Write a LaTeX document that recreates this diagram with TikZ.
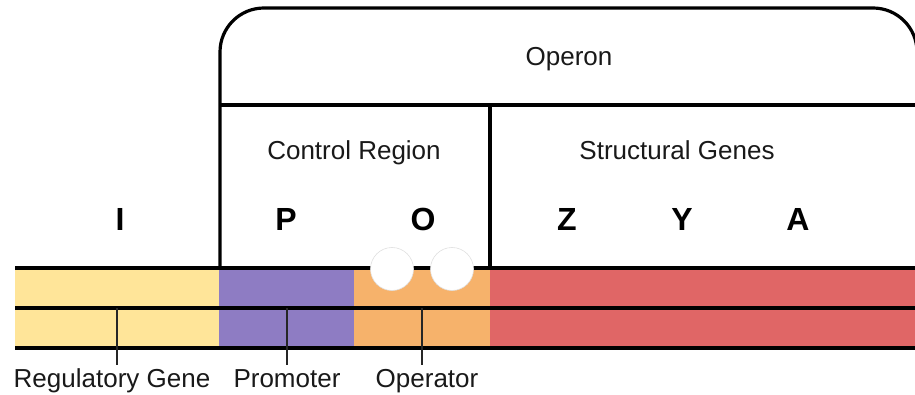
\documentclass[tikz,border=0pt]{standalone}
\usepackage{fontspec}
\setmainfont{Liberation Sans}
\usetikzlibrary{positioning}
\definecolor{genyellow}{HTML}{FFE599}
\definecolor{genpurple}{HTML}{8E7CC3}
\definecolor{genorange}{HTML}{F6B26B}
\definecolor{genred}{HTML}{E06666}
\tikzset{
    strand/.style={line width=1.8pt,draw=black},
    frame/.style={line width=1.6pt,draw=black,rounded corners=22pt},
    leader/.style={line width=0.7pt,draw=black!85},
    gene/.style={font=\fontsize{16}{18}\selectfont\bfseries,anchor=base},
    lbl/.style={font=\fontsize{13}{15}\selectfont,text=black!90,anchor=base},
    repressor/.style={circle,fill=white,draw=black!12,line width=0.3pt,inner sep=0pt,minimum size=21.5pt}
}

\begin{document}
\begin{tikzpicture}[x=0.5pt,y=-0.5pt]
  \useasboundingbox (0,0) rectangle (915,395);
  % coloured stretches of the double strand
  \fill[genyellow] (15,268) rectangle (219,348);
  \fill[genpurple] (219,268) rectangle (354,348);
  \fill[genorange] (354,268) rectangle (490,348);
  \fill[genred] (490,268) rectangle (917,348);
  \foreach \y in {268,308,348}{\draw[strand] (15,\y) -- (917,\y);}
  % operon frame
  \draw[frame] (220,268) -- (220,8) -- (917,8) -- (917,268);
  \draw[frame] (220,105) -- (917,105);
  \draw[frame] (490,105) -- (490,268);
  % repressors sitting on the operator
  \node[repressor] (rep1) at (392,269) {};
  \node[repressor] (rep2) at (452,269) {};
  % headings
  \node[lbl] (operon) at (569,66) {Operon};
  \node[lbl] (ctrl) at (354,160) {Control Region};
  \node[lbl] (struct) at (677,160) {Structural Genes};
  \foreach \g/\x in {I/120,P/286,O/423,Z/567,Y/682,A/798}
    \node[gene] (gene\g) at (\x,231) {\g};
  % labels under the strand
  \node[lbl] (reg) at (112,387) {Regulatory Gene};
  \node[lbl] (prom) at (287,387) {Promoter};
  \node[lbl] (oper) at (427,387) {Operator};
  \foreach \n/\x in {reg/117,prom/287,oper/422}{
    \coordinate (\n top) at (\x,308);
    \coordinate (\n end) at (\x,365);
    \draw[leader] (\n top) -- (\n end);
  }
\end{tikzpicture}
\end{document}
